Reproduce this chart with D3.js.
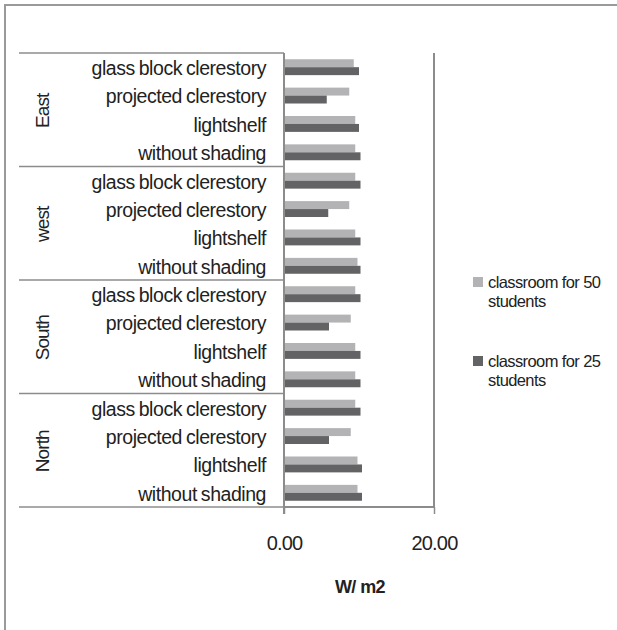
<!DOCTYPE html>
<html>
<head>
<meta charset="utf-8">
<script src="https://cdn.jsdelivr.net/npm/d3@7"></script>
<style>
  html, body { margin: 0; padding: 0; background: #fff; }
  svg text { font-family: "Liberation Sans", Arial, sans-serif; fill: #222; }
</style>
</head>
<body>
<svg id="chart" width="617" height="630"></svg>
<script>
// Orientation groups, top to bottom
const groups = ["East", "west", "South", "North"];
// Shading options within each group, top to bottom
const options = ["glass block clerestory", "projected clerestory", "lightshelf", "without shading"];
const seriesNames = ["classroom for 50 students", "classroom for 25 students"];
const seriesColors = ["#b3b3b5", "#636365"];
// W/m2 per group, per option (same order as above)
const class50 = [
  [9.3, 8.7, 9.5, 9.5],   // East
  [9.5, 8.7, 9.5, 9.8],   // west
  [9.5, 8.9, 9.5, 9.5],   // South
  [9.5, 8.9, 9.8, 9.8]    // North
];
const class25 = [
  [10.0, 5.7, 10.0, 10.2],
  [10.2, 5.9, 10.2, 10.2],
  [10.2, 6.0, 10.2, 10.2],
  [10.2, 6.0, 10.4, 10.4]
];
const xTicks = [0, 20];

const svg = d3.select("#chart");

// outer frame
svg.append("path")
  .attr("d", "M5,630 V5 H617")
  .attr("fill", "none").attr("stroke", "#9a9a9a").attr("stroke-width", 2);

const plot = { left: 284, right: 434, top: 53, bottom: 507 };

const rows = [];
groups.forEach((g, gi) => options.forEach((o, oi) => {
  rows.push({ key: g + "|" + o, group: g, option: o, v50: class50[gi][oi], v25: class25[gi][oi] });
}));

const x = d3.scaleLinear().domain([0, 20]).range([plot.left, plot.right]);
const y = d3.scaleBand().domain(rows.map(d => d.key)).range([plot.top, plot.bottom]).paddingInner(0.44).paddingOuter(0.22);
const sub = d3.scaleBand().domain(["v50", "v25"]).range([0, y.bandwidth()]);

// bars
const rowG = svg.append("g").selectAll("g").data(rows).join("g")
  .attr("transform", d => `translate(0,${y(d.key)})`);
["v50", "v25"].forEach((k, i) => {
  rowG.append("rect")
    .attr("x", x(0))
    .attr("y", sub(k))
    .attr("width", d => x(d[k]) - x(0))
    .attr("height", sub.bandwidth())
    .attr("fill", seriesColors[i]);
});

// right border of plot area
svg.append("line")
  .attr("x1", x(20)).attr("x2", x(20))
  .attr("y1", plot.top).attr("y2", plot.bottom)
  .attr("stroke", "#8c8c8c").attr("stroke-width", 2);

// x axis
const xAxis = svg.append("g")
  .attr("transform", `translate(0,${plot.bottom})`)
  .call(d3.axisBottom(x).tickValues(xTicks).tickSize(7).tickPadding(22).tickFormat(d3.format(".2f")));
xAxis.select(".domain").attr("stroke", "#8c8c8c").attr("stroke-width", 2).attr("d", `M${plot.left},0H${plot.right}`);
xAxis.selectAll(".tick line").attr("stroke", "#8c8c8c").attr("stroke-width", 1.5);
xAxis.selectAll(".tick text").attr("font-size", 20).attr("fill", "#222")
  .style("font-family", '"Liberation Sans", Arial, sans-serif').attr("letter-spacing", -0.8);

// y axis vertical line (category axis)
svg.append("line")
  .attr("x1", plot.left).attr("x2", plot.left)
  .attr("y1", plot.top).attr("y2", plot.bottom + 7)
  .attr("stroke", "#8c8c8c").attr("stroke-width", 2);

// group separators
const groupEdges = d3.range(groups.length + 1).map(i => plot.top + i * options.length * (plot.bottom - plot.top) / rows.length);
svg.append("g").selectAll("line").data(groupEdges).join("line")
  .attr("x1", 19).attr("x2", plot.left)
  .attr("y1", d => d).attr("y2", d => d)
  .attr("stroke", "#8c8c8c").attr("stroke-width", 1.5);

// option labels
svg.append("g").selectAll("text").data(rows).join("text")
  .attr("x", 266)
  .attr("y", d => y(d.key) + y.bandwidth() / 2 + 1)
  .attr("dy", "0.35em")
  .attr("text-anchor", "end")
  .attr("font-size", 19.5)
  .attr("letter-spacing", -0.45)
  .attr("word-spacing", -1)
  .text(d => d.option);

// group labels, rotated
svg.append("g").selectAll("text").data(groups).join("text")
  .attr("transform", (d, i) => `translate(42,${(groupEdges[i] + groupEdges[i + 1]) / 2 + 1}) rotate(-90)`)
  .attr("dy", "0.35em")
  .attr("text-anchor", "middle")
  .attr("font-size", 19)
  .attr("letter-spacing", -0.9)
  .text(d => d);

// axis title
svg.append("text")
  .attr("x", (plot.left + plot.right) / 2 + 1)
  .attr("y", 593)
  .attr("text-anchor", "middle")
  .attr("font-size", 18)
  .attr("font-weight", "bold")
  .attr("letter-spacing", -0.6)
  .text("W/ m2");

// legend
const legend = svg.append("g").selectAll("g").data(seriesNames).join("g")
  .attr("transform", (d, i) => `translate(473,${277 + i * 79})`);
legend.append("rect").attr("width", 10).attr("height", 10).attr("fill", (d, i) => seriesColors[i]);
legend.each(function (d) {
  const words = d.split(" ");
  const t = d3.select(this).append("text")
    .attr("x", 15).attr("y", 11)
    .attr("font-size", 16.5)
    .attr("letter-spacing", -0.6);
  t.append("tspan").attr("x", 15).attr("dy", 0).text(words.slice(0, 3).join(" "));
  t.append("tspan").attr("x", 15).attr("dy", 19).text(words.slice(3).join(" "));
});
</script>
</body>
</html>
